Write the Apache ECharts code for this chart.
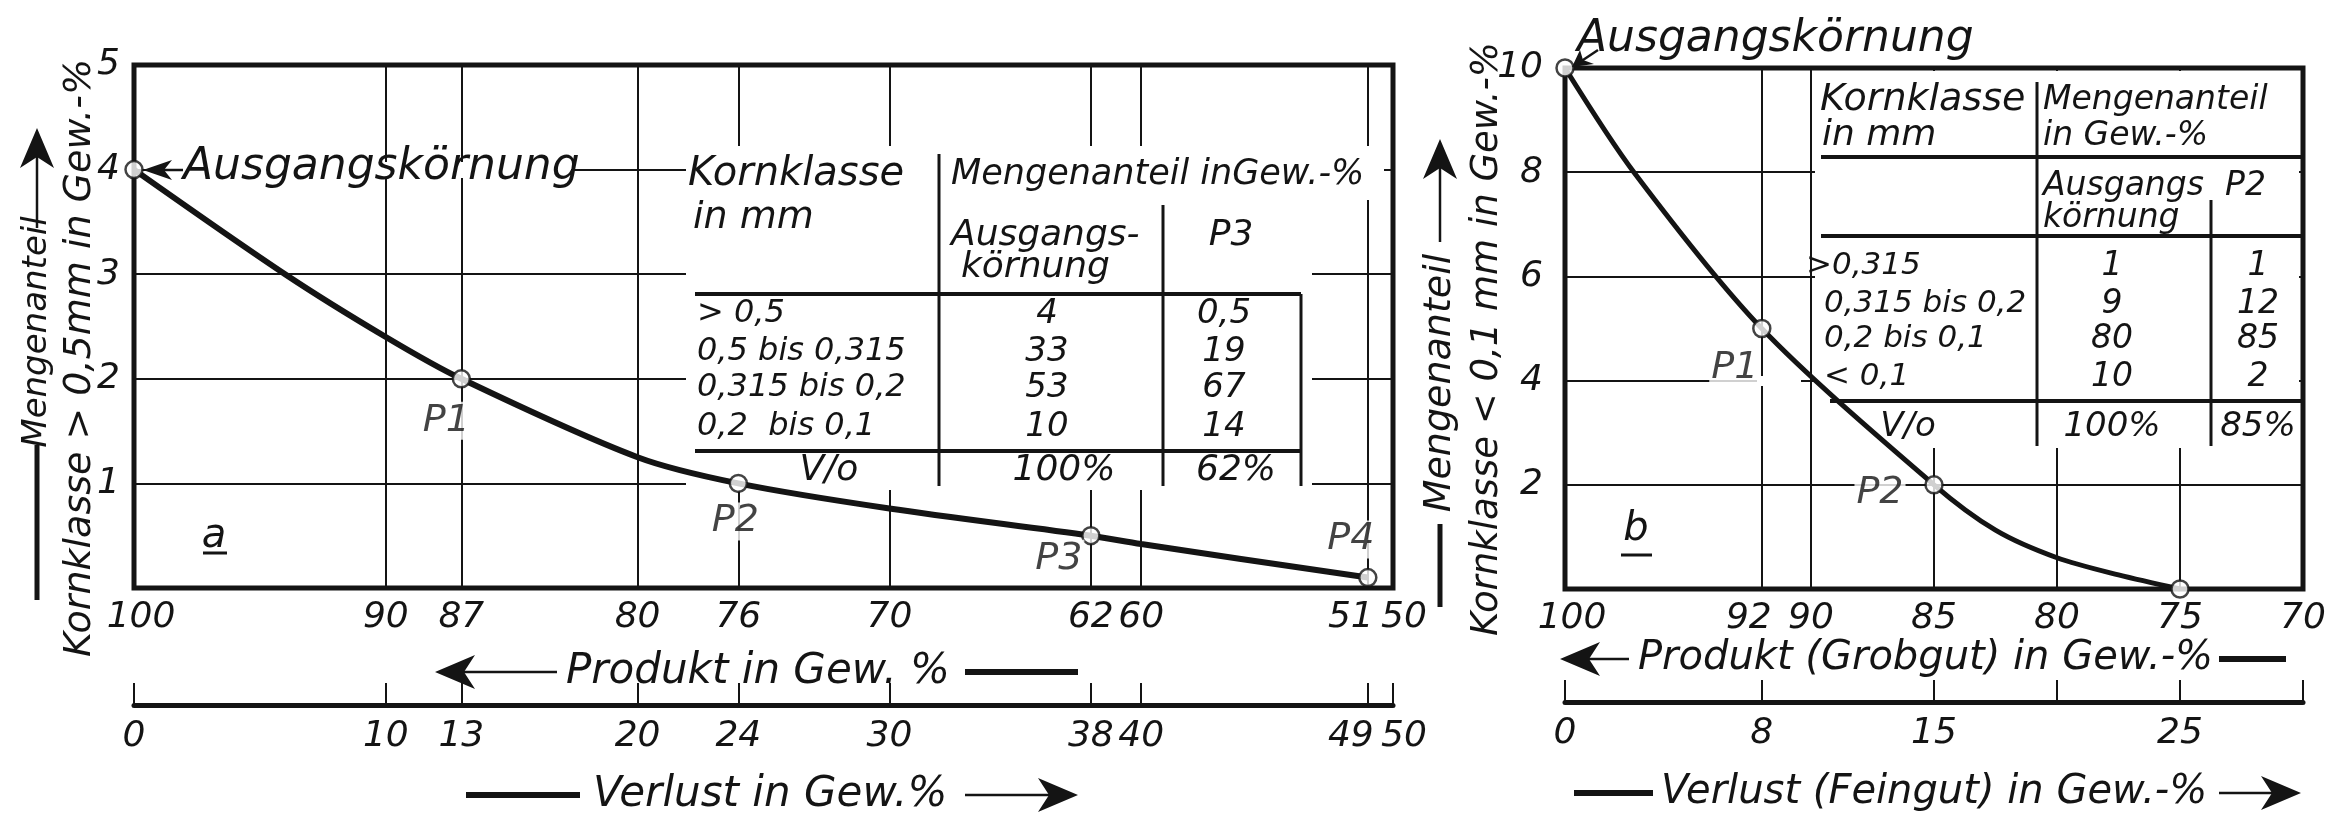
<!DOCTYPE html>
<html>
<head>
<meta charset="utf-8">
<script src="https://cdn.jsdelivr.net/npm/echarts@6.0.0/dist/echarts.min.js"></script>
<style>
  html, body { margin: 0; padding: 0; background: #fff; }
  #chart { width: 2331px; height: 817px; }
</style>
</head>
<body>
<div id="chart"></div>
<script>
// ---- Bild a: Kornklasse > 0,5 mm ----
const produktA = [100, 94, 90, 87, 80, 76, 70, 62, 60, 51]
const mengeA = [4, 3, 2.4, 2, 1.25, 1, 0.76, 0.5, 0.42, 0.1]
const punktProduktA = [100, 87, 76, 62, 51]
const punktMengeA = [4, 2, 1, 0.5, 0.1]
const punktNamenA = ['', 'P1', 'P2', 'P3', 'P4']
const produktTicksA = [100, 90, 87, 80, 76, 70, 62, 60, 51, 50]
const verlustTicksA = [0, 10, 13, 20, 24, 30, 38, 40, 49, 50]
const yTicksA = [1, 2, 3, 4, 5]
const gridXA = [90, 87, 80, 76, 70, 62, 60, 51]
const gridYA = [1, 2, 3, 4]
const kornklassenA = ['> 0,5', '0,5 bis 0,315', '0,315 bis 0,2', '0,2  bis 0,1']
const ausgangA = ['4', '33', '53', '10']
const p3A = ['0,5', '19', '67', '14']
const summeA = ['100%', '62%']

// ---- Bild b: Kornklasse < 0,1 mm ----
const produktB = [100, 97.2, 92, 85, 82.5, 80, 77.5, 75]
const mengeB = [10, 8, 5, 2, 1.13, 0.6, 0.27, 0]
const punktProduktB = [100, 92, 85, 75]
const punktMengeB = [10, 5, 2, 0]
const punktNamenB = ['', 'P1', 'P2', '']
const produktTicksB = [100, 92, 90, 85, 80, 75, 70]
const verlustLabelsB = [0, 8, 15, 25]
const verlustTicksB = [0, 8, 15, 20, 25, 30]
const yTicksB = [2, 4, 6, 8, 10]
const gridXB = [92, 90, 85, 80, 75]
const gridYB = [2, 4, 6, 8]
const kornklassenB = ['>0,315', '0,315 bis 0,2', '0,2 bis 0,1', '< 0,1']
const ausgangB = ['1', '9', '80', '10']
const p2B = ['1', '12', '85', '2']
const summeB = ['100%', '85%']

// label offsets (px) for the point names
const labelOffsetA = [null, [-15, 42], [-3, 38], [-32, 23], [-17, -38]]
const labelOffsetB = [null, [-27, 40], [-54, 8], null]

const INK = '#141414'
const FONT = '"DejaVu Sans", "Liberation Sans", sans-serif'

const labelStyle = (size) => ({
  color: INK, fontFamily: FONT, fontStyle: 'italic', fontSize: size
})

function txt(x, y, text, size, align, rot) {
  return {
    type: 'text', x: x, y: y, rotation: rot || 0, z: 10,
    style: {
      text: text, fill: INK, font: 'italic ' + size + 'px ' + FONT,
      textAlign: align || 'left', align: align || 'left',
      textVerticalAlign: 'middle', verticalAlign: 'middle'
    }
  }
}
function line(points, w) {
  return { type: 'polyline', z: 10, shape: { points: points }, style: { stroke: INK, lineWidth: w, fill: null } }
}
function poly(points) {
  return { type: 'polygon', z: 10, shape: { points: points }, style: { fill: INK } }
}
function mask(x, y, w, h) {
  return { type: 'rect', z: 1, shape: { x: x, y: y, width: w, height: h }, style: { fill: '#fff' } }
}
// arrow heads
function headUp(x, y) { return poly([[x, y], [x - 17, y + 40], [x, y + 29], [x + 17, y + 40]]) }
function headLeft(x, y) { return poly([[x, y], [x + 40, y - 17], [x + 29, y], [x + 40, y + 17]]) }
function headRight(x, y) { return poly([[x, y], [x - 40, y - 17], [x - 29, y], [x - 40, y + 17]]) }

function points(xs, ys, names, offsets) {
  return xs.map((x, i) => {
    const item = { value: [x, ys[i]] }
    if (names[i]) {
      item.label = {
        show: true, formatter: names[i], position: 'inside', offset: offsets[i],
        backgroundColor: '#fff', padding: [0, 2], ...labelStyle(38)
      }
    }
    return item
  })
}

// shift labels of close ticks apart
const rich = {
  l: { padding: [0, 34, 0, 0], ...labelStyle(36) },
  r: { padding: [0, 0, 0, 22], ...labelStyle(36) },
  l2: { padding: [0, 26, 0, 0], ...labelStyle(36) },
  s: { padding: [0, 0, 0, 14], ...labelStyle(36) }
}

function produktAxis(grid, min, max, ticks, gridVals, fmt) {
  return {
    type: 'value', gridIndex: grid, min: min, max: max, inverse: true,
    axisLine: { show: false, onZero: false },
    axisTick: { show: false, customValues: gridVals },
    splitLine: { show: true, lineStyle: { color: INK, width: 2 } },
    axisLabel: { customValues: ticks, margin: 12, formatter: fmt, rich: rich, ...labelStyle(36) }
  }
}
function verlustAxis(grid, max, labels, ticks, fmt) {
  return {
    type: 'value', gridIndex: grid, min: 0, max: max,
    axisLine: { show: true, onZero: false, lineStyle: { color: INK, width: 5 } },
    axisTick: { show: true, inside: true, length: 22, customValues: ticks, lineStyle: { color: INK, width: 2 } },
    splitLine: { show: false },
    axisLabel: { customValues: labels, margin: 14, formatter: fmt, rich: rich, ...labelStyle(36) }
  }
}
function mengeAxis(grid, max, labels, gridVals, margin) {
  return {
    type: 'value', gridIndex: grid, min: 0, max: max,
    axisLine: { show: false, onZero: false },
    axisTick: { show: false, customValues: gridVals },
    splitLine: { show: true, lineStyle: { color: INK, width: 2 } },
    axisLabel: { customValues: labels, margin: margin, ...labelStyle(36) }
  }
}
const hiddenY = (grid) => ({ type: 'value', gridIndex: grid, min: 0, max: 1, show: false })

// table a
const tabA = [
  txt(688, 175, 'Kornklasse', 40), txt(693, 218, 'in mm', 38),
  txt(951, 175, 'Mengenanteil inGew.-%', 35),
  txt(951, 236, 'Ausgangs-', 36), txt(961, 268, 'körnung', 36),
  txt(1231, 236, 'P3', 36, 'center'),
  line([[695, 294], [1301, 294]], 4), line([[695, 451], [1301, 451]], 4),
  line([[939, 154], [939, 486]], 3), line([[1163, 205], [1163, 486]], 3),
  line([[1301, 294], [1301, 486]], 3),
  txt(829, 471, 'V/o', 36, 'center'),
  txt(1064, 471, summeA[0], 36, 'center'), txt(1236, 471, summeA[1], 36, 'center')
]
const rowYA = [314, 352, 388, 427]
kornklassenA.forEach((k, i) => {
  tabA.push(txt(697, rowYA[i], k, 32))
  tabA.push(txt(1047, rowYA[i], ausgangA[i], 34, 'center'))
  tabA.push(txt(1224, rowYA[i], p3A[i], 34, 'center'))
})

// table b
const tabB = [
  txt(1820, 100, 'Kornklasse', 38), txt(1822, 136, 'in mm', 36),
  txt(2043, 100, 'Mengenanteil', 33), txt(2043, 136, 'in Gew.-%', 33),
  txt(2043, 186, 'Ausgangs', 33), txt(2225, 186, 'P2', 33), txt(2043, 218, 'körnung', 33),
  line([[1821, 157], [2303, 157]], 4), line([[1821, 236], [2303, 236]], 4),
  line([[1830, 401], [2303, 401]], 4),
  line([[2037, 82], [2037, 446]], 3), line([[2211, 200], [2211, 446]], 3),
  txt(1908, 427, 'V/o', 34, 'center'),
  txt(2112, 427, summeB[0], 34, 'center'), txt(2258, 427, summeB[1], 34, 'center')
]
const rowYB = [266, 304, 339, 377]
kornklassenB.forEach((k, i) => {
  tabB.push(txt(i === 0 ? 1806 : 1824, rowYB[i], k, 31))
  tabB.push(txt(2112, rowYB[i], ausgangB[i], 33, 'center'))
  tabB.push(txt(2258, rowYB[i], p2B[i], 33, 'center'))
})

const deco = [
  // masks behind tables and labels
  mask(686, 146, 626, 344), mask(1312, 146, 72, 54), mask(165, 162, 406, 16),
  mask(1815, 71, 484, 377), mask(1757, 376, 44, 10),
  // a: y titles
  headUp(37, 128), line([[37, 156], [37, 228]], 2.5),
  txt(37, 332, 'Mengenanteil', 34, 'center', Math.PI / 2),
  line([[37, 445], [37, 600]], 5),
  txt(80, 358, 'Kornklasse > 0,5mm in Gew.-%', 38, 'center', Math.PI / 2),
  // a: x titles
  headLeft(435, 672), line([[463, 672], [557, 672]], 2.5),
  txt(566, 672, 'Produkt in Gew. %', 42), line([[965, 672], [1078, 672]], 6),
  line([[466, 795], [580, 795]], 6), txt(593, 795, 'Verlust in Gew.%', 42),
  line([[965, 795], [1052, 795]], 2.5), headRight(1078, 795),
  // a: Ausgangskörnung + label a
  txt(183, 168, 'Ausgangskörnung', 44), line([[160, 170], [183, 170]], 2.5),
  poly([[143, 170], [172, 160], [164, 170], [172, 180]]),
  txt(214, 537, 'a', 40, 'center'), line([[203, 553], [227, 553]], 3),
  // b: y titles
  headUp(1440, 139), line([[1440, 168], [1440, 242]], 2.5),
  txt(1440, 383, 'Mengenanteil', 38, 'center', Math.PI / 2),
  line([[1440, 524], [1440, 607]], 5),
  txt(1487, 339, 'Kornklasse < 0,1 mm in Gew.-%', 37, 'center', Math.PI / 2),
  // b: x titles
  headLeft(1560, 659), line([[1587, 659], [1629, 659]], 2.5),
  txt(1638, 659, 'Produkt (Grobgut) in Gew.-%', 40), line([[2219, 659], [2286, 659]], 6),
  line([[1574, 793], [1653, 793]], 6), txt(1661, 793, 'Verlust (Feingut) in Gew.-%', 40),
  line([[2219, 793], [2275, 793]], 2.5), headRight(2301, 793),
  // b: Ausgangskörnung + label b
  txt(1577, 40, 'Ausgangskörnung', 44), line([[1598, 50], [1580, 62]], 2.5),
  poly([[1572, 67], [1580, 50], [1583, 60], [1594, 64]]),
  txt(1636, 530, 'b', 40, 'center'), line([[1621, 555], [1652, 555]], 3)
].concat(tabA, tabB)

const myChart = echarts.init(document.getElementById('chart'))
myChart.setOption({
  animation: false,
  backgroundColor: '#fff',
  grid: [
    { left: 134, top: 65, width: 1259, height: 523, show: true, borderColor: INK, borderWidth: 5 },
    { left: 134, top: 704, width: 1259, height: 1 },
    { left: 1565, top: 68, width: 738, height: 521, show: true, borderColor: INK, borderWidth: 5 },
    { left: 1565, top: 701, width: 738, height: 1 }
  ],
  xAxis: [
    produktAxis(0, 50, 100, produktTicksA, gridXA,
      v => v === 51 ? '{l|51}' : v === 50 ? '{r|50}' : v === 100 ? '{s|100}' : String(v)),
    verlustAxis(1, 50, verlustTicksA, verlustTicksA,
      v => v === 49 ? '{l|49}' : v === 50 ? '{r|50}' : String(v)),
    produktAxis(2, 70, 100, produktTicksB, gridXB,
      v => v === 92 ? '{l2|92}' : v === 100 ? '{s|100}' : String(v)),
    verlustAxis(3, 30, verlustLabelsB, verlustTicksB, v => String(v))
  ],
  yAxis: [
    mengeAxis(0, 5, yTicksA, gridYA, 14), hiddenY(1),
    mengeAxis(2, 10, yTicksB, gridYB, 22), hiddenY(3)
  ],
  graphic: { elements: deco },
  series: [
    {
      type: 'line', xAxisIndex: 0, yAxisIndex: 0, z: 3, clip: false,
      data: produktA.map((x, i) => [x, mengeA[i]]),
      smooth: 0.3, showSymbol: false,
      lineStyle: { color: INK, width: 6 }
    },
    {
      type: 'scatter', xAxisIndex: 0, yAxisIndex: 0, z: 4, clip: false,
      symbol: 'circle', symbolSize: 17,
      itemStyle: { color: '#fff', borderColor: INK, borderWidth: 2.5 },
      data: points(punktProduktA, punktMengeA, punktNamenA, labelOffsetA)
    },
    {
      type: 'line', xAxisIndex: 2, yAxisIndex: 2, z: 3, clip: false,
      data: produktB.map((x, i) => [x, mengeB[i]]),
      smooth: 0.3, showSymbol: false,
      lineStyle: { color: INK, width: 5 }
    },
    {
      type: 'scatter', xAxisIndex: 2, yAxisIndex: 2, z: 4, clip: false,
      symbol: 'circle', symbolSize: 17,
      itemStyle: { color: '#fff', borderColor: INK, borderWidth: 2.5 },
      data: points(punktProduktB, punktMengeB, punktNamenB, labelOffsetB)
    }
  ]
})
</script>
</body>
</html>
